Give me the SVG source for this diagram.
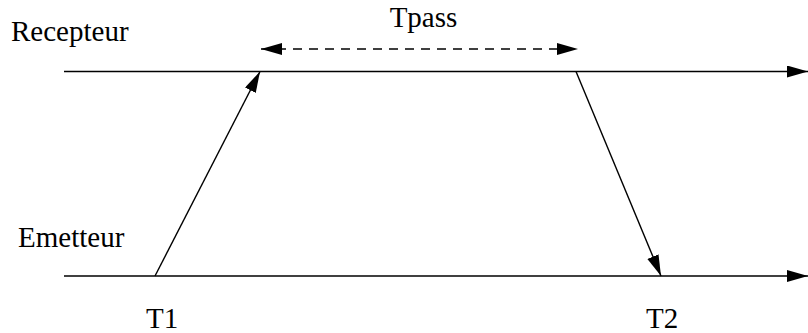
<svg xmlns="http://www.w3.org/2000/svg" width="808" height="333" viewBox="0 0 808 333">
<style>
text{font-family:"Liberation Serif","Times New Roman",serif;font-size:29px;fill:#000}
.ln{stroke:#000;stroke-width:1.4;fill:none}
.ax{stroke:#000;stroke-width:1.6;fill:none}
.dash{stroke-dasharray:9,7}
</style>
<defs>
<marker id="ah" markerUnits="userSpaceOnUse" markerWidth="22" markerHeight="14" refX="21" refY="6" orient="auto">
<path d="M0,0 L21,6 L0,12 Z" fill="#000"/>
</marker>
<marker id="ahs" markerUnits="userSpaceOnUse" markerWidth="22" markerHeight="14" refX="0" refY="6" orient="auto">
<path d="M21,0 L0,6 L21,12 Z" fill="#000"/>
</marker>
</defs>
<rect width="808" height="333" fill="#fff"/>
<g id="recepteur">
<text x="11" y="41">Recepteur</text>
</g>
<g id="emetteur">
<text x="18" y="247">Emetteur</text>
</g>
<g id="t1"><text x="146" y="328">T1</text></g>
<g id="t2"><text x="646" y="328">T2</text></g>
<g id="tpass"><text x="423.5" y="27" text-anchor="middle">Tpass</text></g>
<g id="connectors">
<line class="ax" x1="64" y1="71.5" x2="808" y2="71.5" marker-end="url(#ah)"/>
<line class="ax" x1="64" y1="276" x2="808" y2="276" marker-end="url(#ah)"/>
<line class="ln" x1="155" y1="276" x2="260" y2="71.5" marker-end="url(#ah)"/>
<line class="ln" x1="576" y1="71.5" x2="661" y2="276" marker-end="url(#ah)"/>
<line class="ln dash" x1="261" y1="49" x2="578" y2="49" marker-start="url(#ahs)" marker-end="url(#ah)"/>
</g>
</svg>
